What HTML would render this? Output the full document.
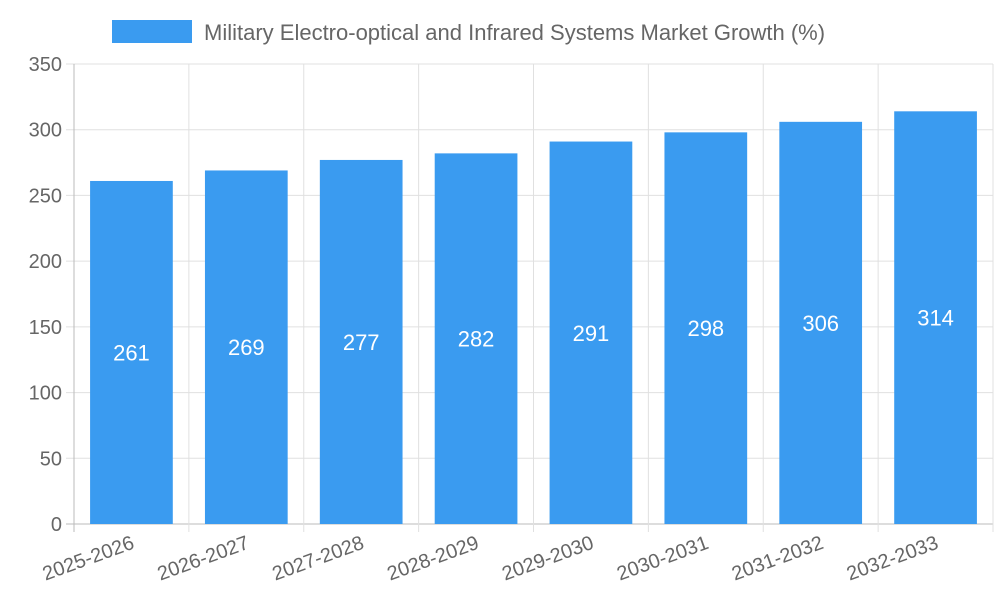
<!DOCTYPE html>
<html><head><meta charset="utf-8"><style>
body{margin:0;background:#fff;}
svg{font-family:"Liberation Sans",sans-serif;}
</style></head><body>
<svg id="chart" width="1000" height="600">
<rect x="112" y="20" width="80" height="23" fill="#3a9bf0"></rect>
<text x="204" y="40" font-size="22" fill="#666">Military Electro-optical and Infrared Systems Market Growth (%)</text>
<g id="grid"></g><g id="bars"></g><g id="labels"></g>
</svg>
<script>
const categories=["2025-2026","2026-2027","2027-2028","2028-2029","2029-2030","2030-2031","2031-2032","2032-2033"];
const values=[261,269,277,282,291,298,306,314];
const yTicks=[0,50,100,150,200,250,300,350];
const L=74,R=993,T=64,B=524,yMax=350;
const ns="http://www.w3.org/2000/svg";
const band=(R-L)/categories.length;
const x=i=>L+i*band;
const y=v=>B-(v/yMax)*(B-T);
function mk(tag,attrs,parent){const e=document.createElementNS(ns,tag);for(const k in attrs)e.setAttribute(k,attrs[k]);parent.appendChild(e);return e;}
const grid=document.getElementById('grid'),bars=document.getElementById('bars'),labels=document.getElementById('labels');
yTicks.forEach(t=>{
 const l=mk('line',{x1:L-8,x2:R,y1:y(t),y2:y(t),stroke:t===0?'#bbb':'#e0e0e0','stroke-width':1},grid);
 
 
 const tx=mk('text',{x:L-12,y:y(t)+7,'text-anchor':'end','font-size':20,fill:'#666'},labels);
 tx.textContent=t;
 
 
});
for(let i=0;i<=categories.length;i++){
 const l=mk('line',{x1:x(i),x2:x(i),y1:T,y2:B+8,stroke:i===0?'#bbb':'#e0e0e0','stroke-width':1},grid);
 
 
}
categories.forEach((c,i)=>{
 const bw=band*0.72,bx=x(i)+(band-bw)/2;
 const r=mk('rect',{x:bx,y:y(values[i]),width:bw,height:B-y(values[i]),fill:'#3a9bf0'},bars);
 
 
 const v=mk('text',{x:bx+bw/2,y:(y(values[i])+B)/2+8,'text-anchor':'middle','font-size':22,fill:'#fff'},labels);
 v.textContent=values[i];
 
 
 const cx=x(i)+band/2+4,cy=B+24;
 const t=mk('text',{x:cx,y:cy,'text-anchor':'end','font-size':20,fill:'#666',transform:`rotate(-20 ${cx} ${cy})`},labels);
 t.textContent=c;
 
 
});
</script>
</body></html>
